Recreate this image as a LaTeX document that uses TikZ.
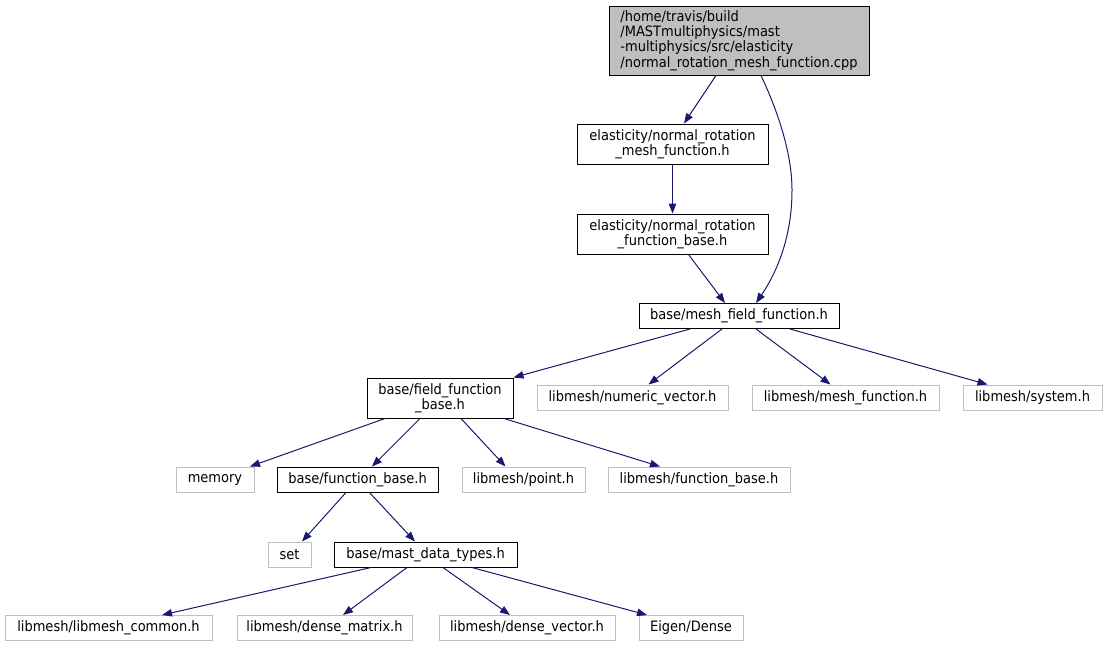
\documentclass[tikz,border=0pt]{standalone}
\usepackage{fontspec}
\setmainfont{DejaVu Sans}[FakeStretch=0.91]
\usetikzlibrary{arrows.meta}
\definecolor{edgeblue}{HTML}{191970}
\definecolor{graybox}{HTML}{BFBFBF}
\tikzset{
  box/.style={draw=black, line width=1pt, inner sep=0pt, align=center,
    font=\fontsize{14.3}{15.3}\selectfont, minimum height=25pt},
  gbox/.style={box, draw=graybox},
  edge/.style={draw=edgeblue, line width=1pt,
    -{Triangle[length=10pt,width=7.5pt]}},
}
\begin{document}
\begin{tikzpicture}[x=1pt,y=-1pt]
\useasboundingbox (0,0) rectangle (1107,648);
\node[box, fill=graybox, align=left, minimum width=260pt, minimum height=69pt] (top) at (739,40.5)
  {/home/travis/build\\/MASTmultiphysics/mast\\-multiphysics/src/elasticity\\/normal\_rotation\_mesh\_function.cpp};
\node[box, minimum width=191pt, minimum height=40pt] (nrmf) at (672.5,144) {elasticity/normal\_rotation\\\_mesh\_function.h};
\node[box, minimum width=191pt, minimum height=40pt] (nrfb) at (672.5,234) {elasticity/normal\_rotation\\\_function\_base.h};
\node[box, minimum width=200pt] (mff) at (739,316) {base/mesh\_field\_function.h};
\node[box, minimum width=146pt, minimum height=40pt] (ffb) at (440,398) {base/field\_function\\\_base.h};
\node[gbox, minimum width=191pt] (nv) at (632.5,397.5) {libmesh/numeric\_vector.h};
\node[gbox, minimum width=187pt] (mf) at (845.5,397.5) {libmesh/mesh\_function.h};
\node[gbox, minimum width=139pt] (sys) at (1032.5,397.5) {libmesh/system.h};
\node[gbox, minimum width=78pt] (mem) at (215,479.5) {memory};
\node[box, minimum width=161pt] (bfb) at (357.5,479.5) {base/function\_base.h};
\node[gbox, minimum width=123pt] (pt) at (523.5,479.5) {libmesh/point.h};
\node[gbox, minimum width=182pt] (lfb) at (699,479.5) {libmesh/function\_base.h};
\node[gbox, minimum width=43pt] (set) at (289.5,554.5) {set};
\node[box, minimum width=183pt] (mast) at (425.5,554.5) {base/mast\_data\_types.h};
\node[gbox, minimum width=207pt] (lc) at (108.5,628) {libmesh/libmesh\_common.h};
\node[gbox, minimum width=175pt] (dm) at (324.5,628) {libmesh/dense\_matrix.h};
\node[gbox, minimum width=176pt] (dv) at (527,628) {libmesh/dense\_vector.h};
\node[gbox, minimum width=104pt] (eig) at (691,628) {Eigen/Dense};

\draw[edge] ([xshift=-23pt]top.south) -- ([xshift=11.5pt]nrmf.north);
\draw[edge] ([xshift=22pt]top.south) .. controls (775,105) and (792,150) .. (792,190)
   .. controls (792,240) and (775,275) .. ([xshift=17pt]mff.north);
\draw[edge] (nrmf.south) -- (nrfb.north);
\draw[edge] ([xshift=16pt]nrfb.south) -- ([xshift=-14pt]mff.north);
\draw[edge] ([xshift=-49pt]mff.south) -- (ffb.north east);
\draw[edge] ([xshift=-17pt]mff.south) -- ([xshift=16pt]nv.north);
\draw[edge] ([xshift=17pt]mff.south) -- ([xshift=-15pt]mf.north);
\draw[edge] ([xshift=51pt]mff.south) -- ([xshift=-45pt]sys.north);
\draw[edge] ([xshift=-55pt]ffb.south) -- ([xshift=35pt]mem.north);
\draw[edge] ([xshift=-20pt]ffb.south) -- ([xshift=14.5pt]bfb.north);
\draw[edge] ([xshift=21pt]ffb.south) -- ([xshift=-18pt]pt.north);
\draw[edge] ([xshift=64pt]ffb.south) -- ([xshift=-39pt]lfb.north);
\draw[edge] ([xshift=-11.5pt]bfb.south) -- ([xshift=12.5pt]set.north);
\draw[edge] ([xshift=12pt]bfb.south) -- ([xshift=-10.5pt]mast.north);
\draw[edge] ([xshift=-54.5pt]mast.south) -- ([xshift=53.5pt]lc.north);
\draw[edge] ([xshift=-18.5pt]mast.south) -- ([xshift=18.5pt]dm.north);
\draw[edge] ([xshift=17.5pt]mast.south) -- ([xshift=-17pt]dv.north);
\draw[edge] ([xshift=46.5pt]mast.south) -- ([xshift=-44pt]eig.north);
\end{tikzpicture}
\end{document}
